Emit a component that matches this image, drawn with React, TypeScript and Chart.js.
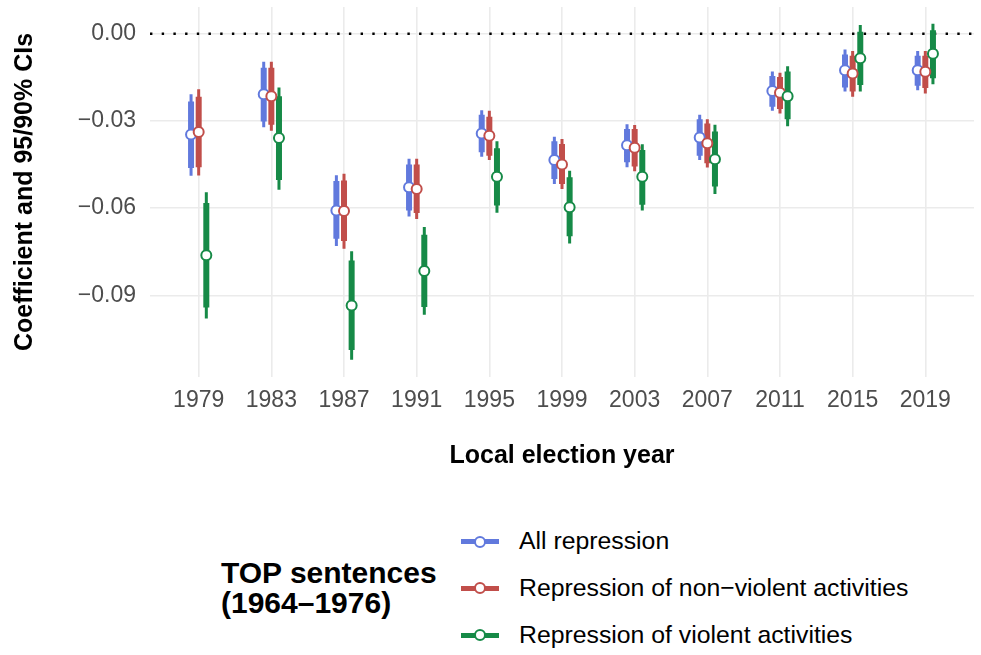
import React, { useEffect, useRef } from "react";
import { Chart, registerables } from "chart.js";

Chart.register(...registerables);

// ---------- data ----------
const years = ["1979", "1983", "1987", "1991", "1995", "1999", "2003", "2007", "2011", "2015", "2019"];
const yTicks = [-0.09, -0.06, -0.03, 0];
const yTickLabels = ["\u22120.09", "\u22120.06", "\u22120.03", "0.00"];

const seriesNames = ["All repression", "Repression of non\u2212violent activities", "Repression of violent activities"];
const seriesColors = ["#6179DD", "#C14E4A", "#168A47"];
const dodge = [-0.105, 0, 0.105];

// All repression
const allEst = [-0.0347, -0.0208, -0.0608, -0.0528, -0.0343, -0.0434, -0.0384, -0.0357, -0.0197, -0.0126, -0.0126];
const allHi90 = [-0.0233, -0.0117, -0.0507, -0.045, -0.0279, -0.037, -0.0328, -0.0294, -0.0145, -0.0071, -0.0076];
const allLo90 = [-0.0462, -0.0302, -0.0705, -0.0608, -0.0408, -0.05, -0.0442, -0.042, -0.0251, -0.0185, -0.0179];
const allHi95 = [-0.0208, -0.0096, -0.0487, -0.043, -0.0263, -0.0354, -0.0311, -0.0279, -0.013, -0.0054, -0.0059];
const allLo95 = [-0.0489, -0.0322, -0.073, -0.0629, -0.0423, -0.0517, -0.0459, -0.0434, -0.0265, -0.0199, -0.0194];

// Repression of non-violent activities
const nonViolentEst = [-0.0338, -0.0215, -0.061, -0.0534, -0.0351, -0.045, -0.0392, -0.0377, -0.0203, -0.0137, -0.0131];
const nonViolentHi90 = [-0.0217, -0.0117, -0.0505, -0.045, -0.0286, -0.0379, -0.0328, -0.0309, -0.0149, -0.0076, -0.0076];
const nonViolentLo90 = [-0.0459, -0.0313, -0.0713, -0.0617, -0.042, -0.0517, -0.0457, -0.0446, -0.0259, -0.0199, -0.0187];
const nonViolentHi95 = [-0.0191, -0.0096, -0.0482, -0.043, -0.0265, -0.0362, -0.0314, -0.0294, -0.0134, -0.0059, -0.0059];
const nonViolentLo95 = [-0.0488, -0.0334, -0.074, -0.0637, -0.0434, -0.0534, -0.0473, -0.046, -0.0274, -0.0217, -0.0206];

// Repression of violent activities
const violentEst = [-0.0762, -0.0359, -0.0935, -0.0816, -0.0492, -0.0597, -0.0492, -0.0432, -0.0215, -0.0084, -0.0069];
const violentHi90 = [-0.0582, -0.0215, -0.078, -0.0692, -0.0394, -0.0494, -0.04, -0.0336, -0.013, 0.0007, 0.0012];
const violentLo90 = [-0.0942, -0.0503, -0.1088, -0.094, -0.0591, -0.0697, -0.0588, -0.0526, -0.0294, -0.0176, -0.0153];
const violentHi95 = [-0.0545, -0.0185, -0.0748, -0.0665, -0.037, -0.0471, -0.038, -0.0313, -0.0112, 0.003, 0.0034];
const violentLo95 = [-0.098, -0.0537, -0.1122, -0.0967, -0.0616, -0.0722, -0.0608, -0.0551, -0.0318, -0.0199, -0.0174];

const seriesData = [
  { est: allEst, hi90: allHi90, lo90: allLo90, hi95: allHi95, lo95: allLo95 },
  { est: nonViolentEst, hi90: nonViolentHi90, lo90: nonViolentLo90, hi95: nonViolentHi95, lo95: nonViolentLo95 },
  { est: violentEst, hi90: violentHi90, lo90: violentLo90, hi95: violentHi95, lo95: violentLo95 },
];

// ---------- style ----------
const FONT = "'Liberation Sans', Arial, Helvetica, sans-serif";
const X_MIN = -0.67;
const X_MAX = 10.67;
const Y_MIN = -0.1181;
const Y_MAX = 0.0092;
const GRID = "#EBEBEB";

function segments(off: number, lo: number[], hi: number[]) {
  const pts: { x: number; y: number | null }[] = [];
  lo.forEach((l, i) => {
    pts.push({ x: i + off, y: hi[i] }, { x: i + off, y: l }, { x: i + off, y: null });
  });
  return pts;
}

export default function App() {
  const ref = useRef<HTMLCanvasElement | null>(null);

  useEffect(() => {
    if (!ref.current) return;
    const datasets: any[] = [
      {
        type: "line",
        data: [
          { x: X_MIN, y: 0 },
          { x: X_MAX, y: 0 },
        ],
        borderColor: "#000000",
        borderWidth: 2.4,
        borderDash: [2.4, 9.3],
        pointRadius: 0,
        order: 100,
      },
    ];
    seriesData.forEach((s, k) => {
      const color = seriesColors[k];
      datasets.push({
        type: "line",
        data: segments(dodge[k], s.lo95, s.hi95),
        borderColor: color,
        borderWidth: 3,
        borderCapStyle: "butt",
        pointRadius: 0,
        spanGaps: false,
        order: 60,
      });
      datasets.push({
        type: "line",
        data: segments(dodge[k], s.lo90, s.hi90),
        borderColor: color,
        borderWidth: 6,
        borderCapStyle: "butt",
        pointRadius: 0,
        spanGaps: false,
        order: 50,
      });
      datasets.push({
        type: "line",
        data: s.est.map((v, i) => ({ x: i + dodge[k], y: v })),
        showLine: false,
        pointRadius: 5,
        pointBorderWidth: 2,
        pointBackgroundColor: "#ffffff",
        pointBorderColor: color,
        order: 32 - k,
      });
    });

    const chart = new Chart(ref.current, {
      type: "line",
      data: { datasets },
      options: {
        animation: false,
        responsive: false,
        maintainAspectRatio: false,
        events: [],
        layout: { padding: { top: 6, left: 0, right: 0, bottom: 0 } },
        plugins: { legend: { display: false }, tooltip: { enabled: false } },
        scales: {
          x: {
            type: "linear",
            min: X_MIN,
            max: X_MAX,
            afterBuildTicks: (s: any) => {
              s.ticks = years.map((_, i) => ({ value: i }));
            },
            afterFit: (s: any) => {
              s.height = 113;
              s.paddingLeft = 0;
              s.paddingRight = 0;
            },
            ticks: {
              callback: (v: any) => years[Math.round(Number(v))],
              font: { family: FONT, size: 23 },
              color: "#4D4D4D",
              padding: 10,
              maxRotation: 0,
              autoSkip: false,
            },
            grid: { color: GRID, lineWidth: 1.6, drawTicks: false },
            border: { display: false },
            title: {
              display: true,
              text: "Local election year",
              font: { family: FONT, size: 25, weight: "bold" },
              color: "#000000",
              padding: { top: 0, bottom: 19 },
            },
          },
          y: {
            type: "linear",
            min: Y_MIN,
            max: Y_MAX,
            stacked: false,
            afterBuildTicks: (s: any) => {
              s.ticks = yTicks.map((v) => ({ value: v }));
            },
            afterFit: (s: any) => {
              s.width = 150;
              s.paddingTop = 0;
              s.paddingBottom = 0;
            },
            ticks: {
              callback: (_v: any, i: number) => yTickLabels[i],
              font: { family: FONT, size: 23 },
              color: "#4D4D4D",
              padding: 14,
            },
            grid: { color: GRID, lineWidth: 1.6, drawTicks: false },
            border: { display: false },
            title: {
              display: true,
              text: "Coefficient and 95/90% CIs",
              font: { family: FONT, size: 25, weight: "bold" },
              color: "#000000",
              padding: { top: 10, bottom: 0 },
            },
          },
        },
      } as any,
    });
    return () => chart.destroy();
  }, []);

  const rowCenters = [541.7, 588.3, 635];

  return (
    <div
      style={{
        position: "fixed",
        left: 0,
        top: 0,
        width: 981,
        height: 655,
        background: "#ffffff",
        fontFamily: FONT,
        overflow: "hidden",
      }}
    >
      <canvas ref={ref} width={981} height={490} style={{ display: "block", position: "absolute", left: 0, top: 0 }} />
      <div
        style={{
          position: "absolute",
          left: 221,
          top: 558,
          fontSize: 30,
          lineHeight: "29.5px",
          fontWeight: "bold",
          color: "#000",
          whiteSpace: "nowrap",
        }}
      >
        <div>TOP sentences</div>
        <div>(1964{"\u2013"}1976)</div>
      </div>
      {seriesNames.map((name, k) => (
        <div
          key={name}
          style={{
            position: "absolute",
            left: 460.7,
            top: rowCenters[k] - 20,
            height: 40,
            display: "flex",
            alignItems: "center",
            whiteSpace: "nowrap",
          }}
        >
          <div style={{ position: "relative", width: 38.6, height: 40 }}>
            <div
              style={{
                position: "absolute",
                left: 0,
                top: 17.5,
                width: 38.6,
                height: 5,
                background: seriesColors[k],
              }}
            />
            <div
              style={{
                position: "absolute",
                left: 19.3 - 6,
                top: 20 - 6,
                width: 12,
                height: 12,
                boxSizing: "border-box",
                borderRadius: "50%",
                border: `2px solid ${seriesColors[k]}`,
                background: "#ffffff",
              }}
            />
          </div>
          <div style={{ marginLeft: 19.7, fontSize: 24.8, lineHeight: 1, color: "#000" }}>{name}</div>
        </div>
      ))}
    </div>
  );
}
